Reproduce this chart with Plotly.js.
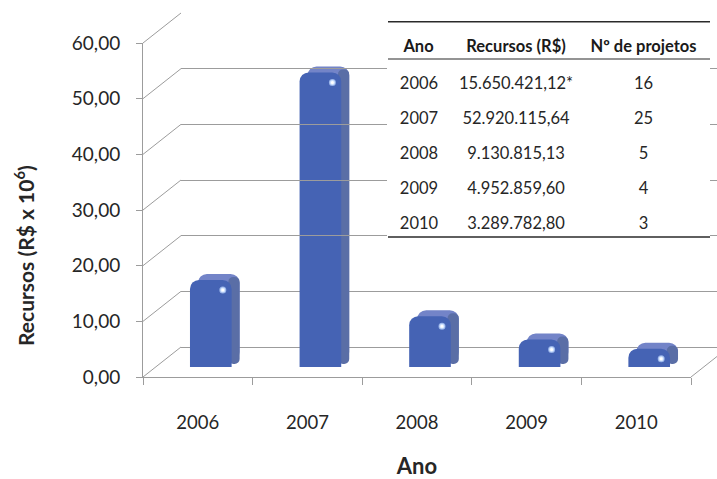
<!DOCTYPE html>
<html>
<head>
<meta charset="utf-8">
<script src="https://cdn.plot.ly/plotly-3.0.1.min.js"></script>
<style>
  html, body { margin: 0; padding: 0; background: #ffffff; }
  #chart { width: 717px; height: 479px; }
</style>
</head>
<body>
<div id="chart"></div>
<script>
// Recursos aplicados por ano e número de projetos
const anos = ['2006', '2007', '2008', '2009', '2010'];
const recursos = [15650421.12, 52920115.64, 9130815.13, 4952859.60, 3289782.80]; // R$
const notas = ['*', '', '', '', ''];
const projetos = [16, 25, 5, 4, 3];
const yTicks = [0, 10, 20, 30, 40, 50, 60];
const cabecalho = ['Ano', 'Recursos (R$)', 'Nº de projetos'];

const W = 717, H = 479;
const FONT = 'Lato, "Open Sans", sans-serif';
const GRID = '#9c9c9c';
const px = x => x / W;          // pixel column -> paper x
const py = y => 1 - y / H;      // pixel row -> paper y

// Formata valores no padrão brasileiro: 15.650.421,12
function fmtBR(v) {
  const [i, d] = v.toFixed(2).split('.');
  return i.replace(/\B(?=(\d{3})+(?!\d))/g, '.') + ',' + d;
}
const recursosMi = recursos.map(v => v / 1e6);
const recursosTexto = recursos.map((v, k) => fmtBR(v) + notas[k]);

// Geometria do gráfico em perspectiva
const front = { x0: 143, x1: 691, y0: 377, y1: 43 };   // plano frontal
const depth = { dx: 38, dy: 30 };                       // deslocamento até a parede do fundo
const barPlane = { x0: 156, x1: 704, y0: 367, y1: 33 }; // plano das barras
const brilho = { dx: 12, dy: 10 };                      // reflexo perto do topo de cada barra
const tabela = { x0: 387, x1: 706, top: 21.7, head: 59, bottom: 237 };

// Volume das barras: face superior/lateral deslocadas
const dxCat = 8 / ((barPlane.x1 - barPlane.x0) / anos.length);
const dyVal = 6 / ((barPlane.y0 - barPlane.y1) / 60);
const half = 0.19;

// Linhas da parede do fundo que passam atrás da tabela ficam só nas laterais dela
const yTopo = yTicks[yTicks.length - 1];
const atrasTabela = yTicks.filter(t => {
  const yy = front.y0 - depth.dy - t * (front.y0 - front.y1) / 60;
  return yy > tabela.top && yy < tabela.bottom;
});
const livres = yTicks.filter(t => !atrasTabela.includes(t));

const vazio = (xa, ya) => ({
  type: 'scatter', mode: 'markers', x: [], y: [],
  xaxis: xa, yaxis: ya, hoverinfo: 'skip', showlegend: false
});

const traces = [
  { // eixos frontais (categorias sem marcas)
    type: 'scatter', mode: 'markers', x: anos, y: anos.map(() => null),
    xaxis: 'x', yaxis: 'y', hoverinfo: 'skip', showlegend: false
  },
  vazio('x2', 'y2'), vazio('x4', 'y4'), vazio('x5', 'y5'),
  { // face superior
    type: 'bar', x: anos, y: recursosMi, base: recursosMi.map(() => dyVal),
    xaxis: 'x3', yaxis: 'y3', width: 2 * half, offset: -half + dxCat,
    marker: { color: '#7384c8', cornerradius: 9, line: { width: 0 } },
    hoverinfo: 'skip', showlegend: false
  },
  { // face lateral
    type: 'bar', x: anos, y: recursosMi, base: recursosMi.map(() => dyVal * 0.5),
    xaxis: 'x3', yaxis: 'y3', width: dxCat + 0.03, offset: half - 0.03,
    marker: { color: '#5a6ea6', cornerradius: 5, line: { width: 0 } },
    hoverinfo: 'skip', showlegend: false
  },
  { // face frontal
    type: 'bar', x: anos, y: recursosMi,
    xaxis: 'x3', yaxis: 'y3', width: 2 * half, offset: -half,
    marker: { color: '#4563b4', cornerradius: 9, line: { width: 0 } },
    hoverinfo: 'skip', showlegend: false
  },
  { // reflexo
    type: 'scatter', mode: 'markers', x: anos, y: recursosMi,
    xaxis: 'x6', yaxis: 'y6',
    marker: { size: 5, color: '#ffffff', line: { color: 'rgba(190,215,255,0.7)', width: 2 } },
    hoverinfo: 'skip', showlegend: false
  },
  { // tabela de recursos e projetos
    type: 'table',
    domain: { x: [px(tabela.x0), px(tabela.x1)], y: [py(244), py(27.7)] },
    columnwidth: [64, 130, 125],
    header: {
      values: cabecalho.map(h => ['<b>' + h.replace(/ /g, '\u00A0') + '</b>']),
      height: 41.3, align: 'center',
      fill: { color: '#ffffff' }, line: { width: 0, color: '#ffffff' },
      font: { family: FONT, size: 16.5, color: '#1a1a1a' }
    },
    cells: {
      values: [anos, recursosTexto, projetos],
      height: 35, align: 'center',
      fill: { color: '#ffffff' }, line: { width: 0, color: '#ffffff' },
      font: { family: FONT, size: 16.5, color: '#262626' }
    }
  }
];

// Linhas laterais (parede esquerda) e aresta direita do chão
const shapes = [];
const pxPerUnit = (front.y0 - front.y1) / 60;
yTicks.forEach(t => {
  const fy = front.y0 - t * pxPerUnit;
  shapes.push({
    type: 'line', xref: 'paper', yref: 'paper',
    x0: px(front.x0), y0: py(fy), x1: px(front.x0 + depth.dx), y1: py(fy - depth.dy),
    line: { color: GRID, width: 1 }, layer: 'below'
  });
});
shapes.push({
  type: 'line', xref: 'paper', yref: 'paper',
  x0: px(front.x1), y0: py(front.y0), x1: px(front.x1 + depth.dx), y1: py(front.y0 - depth.dy),
  line: { color: GRID, width: 1 }, layer: 'below'
});
// Réguas da tabela
[[tabela.top, 1.6], [tabela.head, 1.2], [tabela.bottom, 1.4]].forEach(([y, w]) => {
  shapes.push({
    type: 'line', xref: 'paper', yref: 'paper',
    x0: px(tabela.x0 + 1), x1: px(710), y0: py(y), y1: py(y),
    line: { color: '#2a2a2a', width: w }, layer: 'above'
  });
});

// Eixos da parede do fundo
const backY = (anchor, vals) => ({
  domain: [py(front.y0 - depth.dy), py(front.y1 - depth.dy)], anchor: anchor,
  range: [0, yTopo], tickvals: vals,
  showgrid: true, gridcolor: GRID, gridwidth: 1,
  zeroline: vals.includes(0), zerolinecolor: GRID, zerolinewidth: 1,
  showticklabels: false, ticks: '', showline: false, fixedrange: true
});
const backX = (anchor, d0, d1) => ({
  domain: [d0, d1], anchor: anchor, range: [0, 1], visible: false, fixedrange: true
});
// Eixos do plano das barras (e do reflexo, levemente deslocado)
const barX = (anchor, dx) => ({
  domain: [px(barPlane.x0 + dx), px(barPlane.x1 + dx)], anchor: anchor,
  type: 'category', categoryorder: 'array', categoryarray: anos,
  range: [-0.5, anos.length - 0.5], visible: false, fixedrange: true
});
const barY = (anchor, dy) => ({
  domain: [py(barPlane.y0 + dy), py(barPlane.y1 + dy)], anchor: anchor,
  range: [0, yTopo], visible: false, fixedrange: true
});

const layout = {
  width: W, height: H,
  margin: { l: 0, r: 0, t: 0, b: 0 },
  paper_bgcolor: '#ffffff', plot_bgcolor: 'rgba(0,0,0,0)',
  separators: ',.',
  barmode: 'overlay',
  showlegend: false,
  font: { family: FONT, color: '#262626' },
  // eixos frontais
  xaxis: {
    domain: [px(front.x0), px(front.x1)],
    type: 'category', categoryorder: 'array', categoryarray: anos,
    range: [-0.5, anos.length - 0.5],
    showline: true, linecolor: GRID, linewidth: 1,
    ticks: 'outside', tickson: 'boundaries', ticklen: 7, tickcolor: GRID,
    ticklabelstandoff: 29,
    tickfont: { family: FONT, size: 18.5, color: '#262626' },
    showgrid: false, zeroline: false, fixedrange: true,
    title: { text: '<b>Ano</b>', font: { family: FONT, size: 22, color: '#262626' }, standoff: 28 }
  },
  yaxis: {
    domain: [py(front.y0), py(front.y1)],
    range: [0, yTopo], tickvals: yTicks, tickformat: '.2f',
    showline: true, linecolor: GRID, linewidth: 1,
    ticks: 'outside', ticklen: 6, tickcolor: GRID,
    ticklabelstandoff: 12,
    tickfont: { family: FONT, size: 19, color: '#262626' },
    showgrid: false, zeroline: false, fixedrange: true
  },
  // parede do fundo: largura toda, à esquerda da tabela e à direita dela
  xaxis2: backX('y2', px(front.x0 + depth.dx), 1),
  yaxis2: backY('x2', livres),
  xaxis4: backX('y4', px(front.x0 + depth.dx), px(tabela.x0)),
  yaxis4: backY('x4', atrasTabela),
  xaxis5: backX('y5', px(tabela.x1 + 4), 1),
  yaxis5: backY('x5', atrasTabela),
  // plano das barras e reflexos
  xaxis3: barX('y3', 0),
  yaxis3: barY('x3', 0),
  xaxis6: barX('y6', brilho.dx),
  yaxis6: barY('x6', brilho.dy),
  shapes: shapes,
  annotations: [{
    text: '<b>Recursos (R$ x 10<sup>6</sup>)</b>',
    xref: 'paper', yref: 'paper', x: px(24), y: py(256),
    xanchor: 'center', yanchor: 'middle', textangle: -90, showarrow: false,
    font: { family: FONT, size: 21, color: '#262626' }
  }]
};

Plotly.newPlot('chart', traces, layout, { displayModeBar: false, staticPlot: true });
</script>
</body>
</html>
